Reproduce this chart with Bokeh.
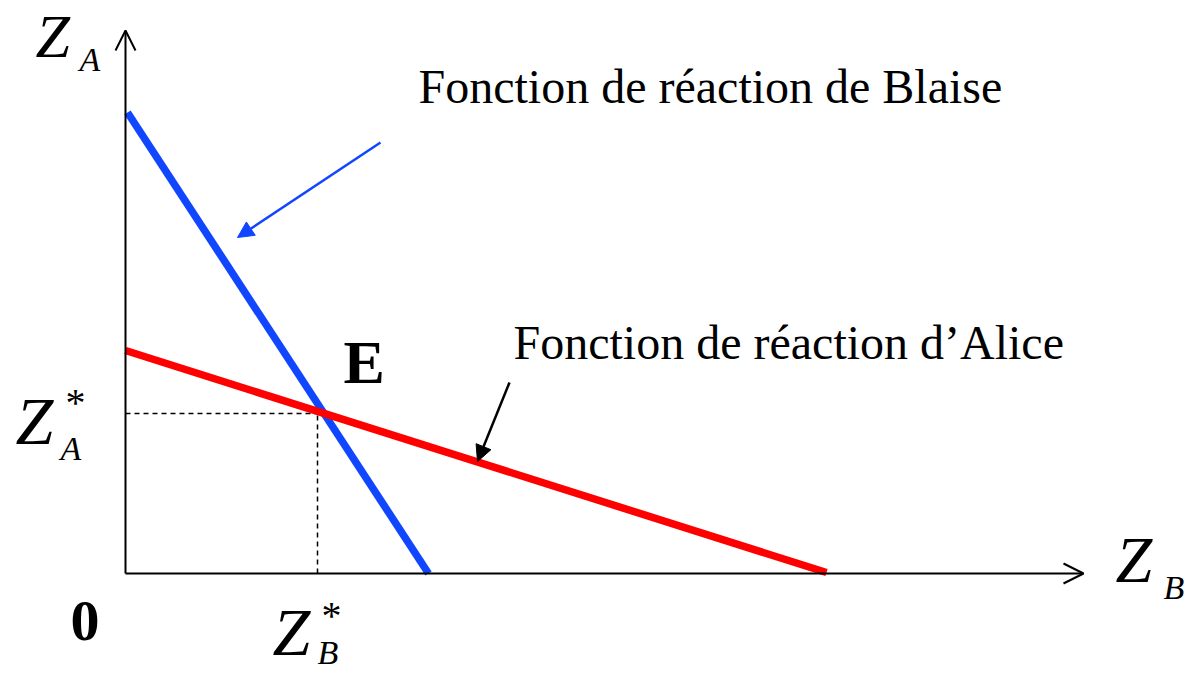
from bokeh.plotting import figure
from bokeh.models import Range1d, Arrow, OpenHead, NormalHead, Label
from bokeh.embed import file_html
from bokeh.resources import INLINE

# --- data (units: arbitrary quantities Z_B on x, Z_A on y) ---
blaise_zb = [0.02, 3.03]
blaise_za = [4.61, 0.0]
alice_zb = [0.0, 7.01]
alice_za = [2.23, 0.01]
eq_zb = 1.92
eq_za = 1.60
axis_max_zb = 9.58
axis_max_za = 5.43

label_blaise = "Fonction de réaction de Blaise"
label_alice = "Fonction de réaction d\u2019Alice"

SERIF = "Liberation Serif"
BLUE = "#1146ff"
RED = "#ff0000"

X0, Y0, SCALE = 125, 573, 100.0   # pixel position of the origin, pixels per unit

p = figure(width=1189, height=674, output_backend="svg", toolbar_location=None,
           x_range=Range1d(-X0 / SCALE, (1189 - X0) / SCALE),
           y_range=Range1d((Y0 - 674) / SCALE, Y0 / SCALE),
           x_axis_type=None, y_axis_type=None, min_border=0)
p.outline_line_color = None
p.grid.visible = False
p.background_fill_color = "white"
p.border_fill_color = "white"

# axes with open arrow heads
p.add_layout(Arrow(end=OpenHead(size=20, line_width=2, line_color="black"),
                   x_start=0, y_start=0, x_end=axis_max_zb, y_end=0,
                   line_width=2, line_color="black"))
p.add_layout(Arrow(end=OpenHead(size=20, line_width=2, line_color="black"),
                   x_start=0, y_start=0, x_end=0, y_end=axis_max_za,
                   line_width=2, line_color="black"))

# dashed guides
p.line([0, eq_zb], [eq_za, eq_za], line_color="black", line_width=1.5, line_dash="5 4")
p.line([eq_zb, eq_zb], [0, eq_za], line_color="black", line_width=1.5, line_dash="5 4")

# reaction functions
p.line(blaise_zb, blaise_za, line_color=BLUE, line_width=7.5)
p.line(alice_zb, alice_za, line_color=RED, line_width=7.5)

# pointer arrows
p.add_layout(Arrow(end=NormalHead(size=16, fill_color=BLUE, line_color=BLUE),
                   x_start=2.55, y_start=4.31, x_end=1.12, y_end=3.36,
                   line_width=2.5, line_color=BLUE))
p.add_layout(Arrow(end=NormalHead(size=16, fill_color="black", line_color="black"),
                   x_start=3.84, y_start=1.91, x_end=3.52, y_end=1.12,
                   line_width=2.5, line_color="black"))

def lab(px, py, t, size, style="normal"):
    # px: left edge, py: baseline, both in picture pixels
    x = (px - X0) / SCALE
    y = (Y0 - py) / SCALE + 0.35 * size / SCALE
    p.add_layout(Label(x=x, y=y, text=t, text_font=SERIF, text_font_size=f"{size}px",
                       text_font_style=style, text_baseline="alphabetic",
                       text_align="left", text_color="black"))

lab(418, 103, label_blaise, 48)
lab(513, 359, label_alice, 48)

# axis names
lab(35, 57, "Z", 62, "italic")
lab(79, 71, "A", 34, "italic")
lab(1115, 582, "Z", 66, "italic")
lab(1163, 599, "B", 34, "italic")

# equilibrium values
lab(15, 444, "Z", 68, "italic")
lab(65, 416, "*", 40)
lab(60, 460, "A", 34, "italic")
lab(272, 655, "Z", 68, "italic")
lab(321, 629, "*", 40)
lab(317, 664, "B", 34, "italic")

lab(70, 641, "0", 58, "bold")
lab(343, 383, "E", 62, "bold")

open("out.html", "w").write(file_html(p, INLINE))
